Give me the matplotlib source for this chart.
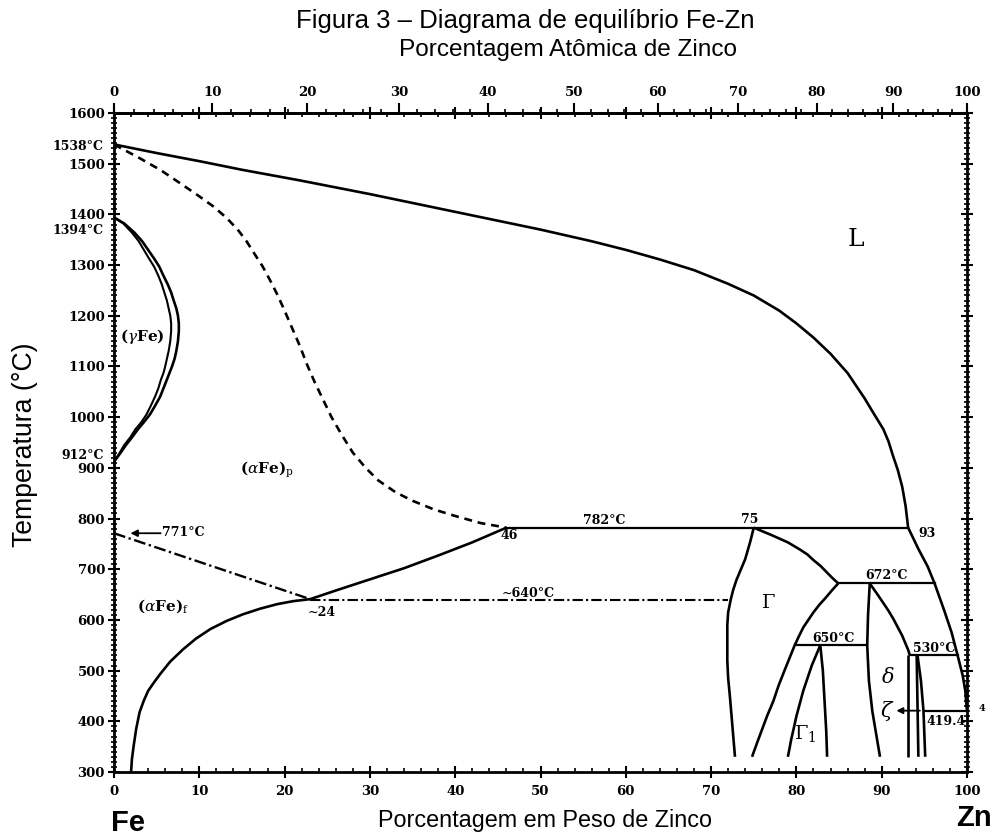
import matplotlib
matplotlib.use("Agg")
import matplotlib.pyplot as plt
import numpy as np
from matplotlib.ticker import MultipleLocator, FixedLocator

plt.rcParams["mathtext.fontset"] = "dejavuserif"

# ---------------- data (wt% Zn, temperature in C) ----------------
liq_wt = [0, 5, 10, 15, 21.8, 30, 40, 50, 56, 60, 64, 68, 72, 75, 78, 80, 82, 84, 86, 87,
          88, 89, 90.2, 90.8, 91.3, 91.9, 92.4, 92.8, 93.1]
liq_T = [1538, 1521, 1505, 1488, 1467, 1440, 1405, 1370, 1347, 1330, 1311, 1290, 1263, 1240,
         1210, 1185, 1157, 1125, 1087, 1062, 1037, 1009, 976, 952, 925, 895, 863, 825, 782]

liq_low_wt = [93.1, 94.3, 95.4, 96.2, 97.3, 98.2, 98.9, 99.5, 99.8, 100]
liq_low_T = [782, 740, 705, 672, 620, 575, 530, 490, 460, 419.4]

dash_wt = [0, 3.0, 5.5, 7.7, 9.8, 11.7, 13.2, 14.5, 15.5, 16.4, 17.4, 18.3, 19.2, 20.0, 20.9,
           21.8, 22.6, 23.5, 24.5, 25.5, 26.7, 28, 29.5, 31, 33, 35, 37.5, 40, 43, 46]
dash_T = [1538, 1511, 1487, 1462, 1438, 1415, 1393, 1370, 1348, 1324, 1298, 1270, 1240, 1210,
          1175, 1140, 1105, 1070, 1035, 1000, 965, 930, 900, 875, 852, 835, 818, 805, 791, 782]

gam_T = [1394, 1388, 1382, 1364, 1347, 1330, 1313, 1297, 1279, 1262, 1246, 1230, 1215, 1200,
         1185, 1170, 1150, 1130, 1115, 1100, 1087, 1074, 1057, 1040, 1022, 1005, 990, 976, 960,
         945, 928, 912]
gam_out_wt = [0, 0.6, 1.2, 2.4, 3.3, 4.0, 4.7, 5.3, 5.8, 6.3, 6.7, 7.0, 7.3, 7.5, 7.6, 7.6,
              7.5, 7.3, 7.1, 6.8, 6.5, 6.2, 5.8, 5.4, 4.8, 4.2, 3.5, 2.8, 2.1, 1.4, 0.7, 0]
gam_in_wt = [0, 0.55, 1.1, 2.1, 2.9, 3.5, 4.1, 4.7, 5.2, 5.6, 5.9, 6.2, 6.4, 6.6, 6.7, 6.7,
             6.6, 6.4, 6.2, 6.0, 5.8, 5.5, 5.2, 4.8, 4.3, 3.8, 3.2, 2.5, 1.9, 1.2, 0.6, 0]

solvus_wt = [23.0, 26, 30, 34, 38, 42, 46]
solvus_T = [641, 658, 680, 702, 727, 753, 782]

alow_wt = [2.0, 2.05, 2.1, 2.3, 2.6, 3.0, 3.5, 4.0, 4.7, 5.4, 6.6, 8.1, 9.6, 11.3, 13.2, 15.1,
           17.1, 19.1, 21.0, 23.0]
alow_T = [300, 312, 325, 351, 385, 418, 441, 460, 477, 493, 518, 542, 563, 582, 598, 611,
          622, 631, 637, 641]

curie_wt = [0, 23.0]
curie_T = [771, 641]
eut_wt = [23.0, 72.0]
eut_T = [640, 640]

per782_wt = [46, 93.1]
per782_T = [782, 782]

gam_left_wt = [75, 74.6, 74.0, 73.5, 73.0, 72.6, 72.3, 72.0, 71.9, 71.9, 72.0, 72.2, 72.5, 72.8]
gam_left_T = [782, 755, 720, 700, 680, 660, 640, 615, 590, 520, 485, 450, 390, 330]
gam_right_wt = [75, 77, 79, 80.4, 81.3, 82, 82.8, 83.5, 84.2, 84.9]
gam_right_T = [782, 768, 753, 739, 729, 718, 707, 695, 683, 672]

per672_wt = [84.9, 96.2]
per672_T = [672, 672]

g1_bound_wt = [84.9, 84.2, 83.5, 82.7, 82.0, 81.4, 80.8, 80.3, 79.8, 79.2, 78.6, 77.9, 77.3,
               76.6, 76.0, 75.4, 74.8]
g1_bound_T = [672, 659, 645, 630, 615, 600, 585, 568, 550, 525, 500, 470, 440, 412, 385, 358, 330]

per550_wt = [79.8, 88.3]
per550_T = [550, 550]

g1_left_wt = [82.8, 82.3, 81.8, 81.3, 80.8, 80.4, 80.0, 79.7, 79.4, 79.2, 79.0]
g1_left_T = [550, 530, 510, 485, 460, 435, 410, 387, 365, 347, 330]
g1_right_wt = [82.8, 83.1, 83.3, 83.5, 83.6]
g1_right_T = [550, 500, 440, 380, 330]

delta_left_wt = [88.6, 88.4, 88.3, 88.5, 88.9, 89.4, 89.8]
delta_left_T = [672, 610, 550, 480, 420, 370, 330]
delta_right_wt = [88.6, 89.1, 89.6, 90.2, 90.8, 91.4, 91.9, 92.4, 92.8, 93.1, 93.3]
delta_right_T = [672, 660, 648, 633, 618, 601, 585, 569, 553, 541, 530]
delta_vert_wt = [93.1, 93.1]
delta_vert_T = [530, 330]

per530_wt = [93.3, 98.9]
per530_T = [530, 530]

zeta_l_wt = [94.1, 94.3]
zeta_l_T = [530, 330]
zeta_r_wt = [94.2, 94.6, 94.9, 95.1]
zeta_r_T = [530, 480, 420, 330]

eut419_wt = [95.1, 100]
eut419_T = [419.4, 419.4]

y_ticks = [300, 400, 500, 600, 700, 800, 900, 1000, 1100, 1200, 1300, 1400, 1500, 1600]
x_ticks = [0, 10, 20, 30, 40, 50, 60, 70, 80, 90, 100]
at_ticks = [0, 10, 20, 30, 40, 50, 60, 70, 80, 90, 100]

M_ZN, M_FE = 65.38, 55.845


def at_to_wt(a):
    a = np.asarray(a, dtype=float)
    return 100 * a * M_ZN / (a * M_ZN + (100 - a) * M_FE)


label_font = dict(family=["Liberation Sans", "DejaVu Sans"])

# ---------------- figure ----------------
W, H = 999, 838
fig = plt.figure(figsize=(W / 100, H / 100), dpi=100)
ax = fig.add_axes([114 / W, 1 - 772 / H, (967 - 114) / W, (772 - 113) / H])
ax.set_xlim(0, 100)
ax.set_ylim(300, 1600)

lw = 1.9
k = "black"
solid = dict(color=k, lw=lw, solid_capstyle="butt", solid_joinstyle="round")
dashdot = (0, (5, 1.5, 1, 1.5))
ax.plot(liq_wt, liq_T, **solid)
ax.plot(liq_low_wt, liq_low_T, **solid)
ax.plot(dash_wt, dash_T, color=k, lw=lw, ls=(0, (3, 2.2)))
ax.plot(gam_out_wt, gam_T, **solid)
ax.plot(gam_in_wt, gam_T, color=k, lw=1.5)
ax.plot(solvus_wt, solvus_T, **solid)
ax.plot(alow_wt, alow_T, **solid)
ax.plot(curie_wt, curie_T, color=k, lw=1.7, ls=dashdot)
ax.plot(eut_wt, eut_T, color=k, lw=1.5, ls=dashdot)
ax.plot(per782_wt, per782_T, color=k, lw=1.6)
ax.plot(gam_left_wt, gam_left_T, **solid)
ax.plot(gam_right_wt, gam_right_T, **solid)
ax.plot(per672_wt, per672_T, color=k, lw=1.6)
ax.plot(g1_bound_wt, g1_bound_T, **solid)
ax.plot(per550_wt, per550_T, color=k, lw=1.6)
ax.plot(g1_left_wt, g1_left_T, **solid)
ax.plot(g1_right_wt, g1_right_T, **solid)
ax.plot(delta_left_wt, delta_left_T, **solid)
ax.plot(delta_right_wt, delta_right_T, **solid)
ax.plot(delta_vert_wt, delta_vert_T, **solid)
ax.plot(per530_wt, per530_T, color=k, lw=1.6)
ax.plot(zeta_l_wt, zeta_l_T, **solid)
ax.plot(zeta_r_wt, zeta_r_T, **solid)
ax.plot(eut419_wt, eut419_T, color=k, lw=1.6)

# ---------------- axes styling ----------------
tick_font = dict(family="DejaVu Serif", weight="bold", size=9.5)
for s in ax.spines.values():
    s.set_linewidth(2)

ax.yaxis.set_major_locator(FixedLocator(y_ticks))
ax.yaxis.set_minor_locator(MultipleLocator(10))
ax.xaxis.set_major_locator(FixedLocator(x_ticks))
ax.xaxis.set_minor_locator(MultipleLocator(2))
ax.set_yticklabels([str(v) for v in y_ticks], fontdict=tick_font)
ax.set_xticklabels([str(v) for v in x_ticks], fontdict=tick_font)
ax.tick_params(axis="y", which="major", direction="inout", length=9, width=1.5, pad=2, left=True, right=True)
ax.tick_params(axis="y", which="minor", direction="inout", length=4, width=1.2, left=True, right=True)
ax.tick_params(axis="x", which="major", direction="inout", length=8, width=1.5, pad=5, top=True, bottom=True)
ax.tick_params(axis="x", which="minor", direction="in", length=3, width=1.2, top=True, bottom=True)

# top atomic % axis
sec = ax.secondary_xaxis("top", functions=(lambda w: w, lambda w: w))
sec.set_xticks(at_to_wt(at_ticks))
sec.set_xticklabels([str(v) for v in at_ticks], fontdict=tick_font)
sec.xaxis.set_minor_locator(FixedLocator(at_to_wt(np.arange(0, 101, 2))))
sec.tick_params(which="major", direction="out", length=7, width=1.5, pad=3)
sec.tick_params(which="minor", direction="out", length=3, width=1.2)
sec.spines["top"].set_linewidth(2)

# ---------------- annotations ----------------
ann = dict(family="DejaVu Serif", weight="bold", size=9, color=k)
fig.text(104 / W, 1 - 146 / H, "1538°C", ha="right", va="center", **ann)
fig.text(104 / W, 1 - 231 / H, "1394°C", ha="right", va="center", **ann)
fig.text(104 / W, 1 - 455 / H, "912°C", ha="right", va="center", **ann)

ax.annotate("", xy=(1.6, 771), xytext=(5.8, 771),
            arrowprops=dict(arrowstyle="-|>", color=k, lw=1.3, mutation_scale=10))
ax.text(5.6, 772, "771°C", ha="left", va="center", **ann)

greek = dict(family="DejaVu Serif", weight="bold", color=k)
ax.text(87, 1350, "L", ha="center", va="center", size=18, family="DejaVu Serif", color=k)
ax.text(3.3, 1160, r"($\gamma$Fe)", ha="center", va="center", size=11, **greek)
ax.text(17.9, 897, r"($\alpha$Fe)$_\mathrm{p}$", ha="center", va="center", size=11, **greek)
ax.text(5.7, 627, r"($\alpha$Fe)$_\mathrm{f}$", ha="center", va="center", size=11, **greek)
ax.text(24.4, 614, "~24", ha="center", va="center", **ann)
ax.text(48.5, 652, "~640°C", ha="center", va="center", **ann)
ax.text(57.5, 797, "782°C", ha="center", va="center", **ann)
ax.text(46.3, 767, "46", ha="center", va="center", **ann)
ax.text(74.5, 798, "75", ha="center", va="center", **ann)
ax.text(95.3, 771, "93", ha="center", va="center", **ann)
ax.text(90.6, 687, "672°C", ha="center", va="center", **ann)
ax.text(84.3, 564, "650°C", ha="center", va="center", **ann)
ax.text(96.1, 544, "530°C", ha="center", va="center", **ann)
ax.text(97.6, 400, "419.4", ha="center", va="center", **ann)
ax.text(101.4, 425, "4", ha="left", va="center", clip_on=False, **dict(ann, size=7))
ax.text(76.7, 635, r"$\Gamma$", ha="center", va="center", size=14, color=k)
ax.text(81.0, 375, r"$\Gamma_1$", ha="center", va="center", size=14, color=k)
ax.text(90.7, 487, r"$\delta$", ha="center", va="center", size=15, color=k)
ax.text(90.6, 421, r"$\zeta$", ha="center", va="center", size=15, color=k)
ax.annotate("", xy=(91.4, 421), xytext=(94.8, 421),
            arrowprops=dict(arrowstyle="-|>", color=k, lw=1.3, mutation_scale=9))

# ---------------- titles / labels (sized to target pixel extents) ----------------
renderer = fig.canvas.get_renderer()


def fit_text(x, y, s, target, along="width", **kw):
    t = fig.text(x / W, 1 - y / H, s, ha="center", va="center", size=16, **kw)
    bb = t.get_window_extent(renderer=renderer)
    cur = bb.width if along == "width" else bb.height
    t.set_fontsize(16 * target / cur)
    return t


fit_text(525, 21, "Figura 3 – Diagrama de equilíbrio Fe-Zn", 460, **label_font)
fit_text(568, 50, "Porcentagem Atômica de Zinco", 340, **label_font)
fit_text(545, 820, "Porcentagem em Peso de Zinco", 335, **label_font)
fit_text(25, 445, "Temperatura (°C)", 205, along="height", rotation=90, **label_font)
fig.text(128 / W, 1 - 823 / H, "Fe", ha="center", va="center", family="Liberation Sans",
         weight="bold", size=21)
fig.text(974 / W, 1 - 818 / H, "Zn", ha="center", va="center", family="Liberation Sans",
         weight="bold", size=21)

fig.savefig("out.png", dpi=100)
